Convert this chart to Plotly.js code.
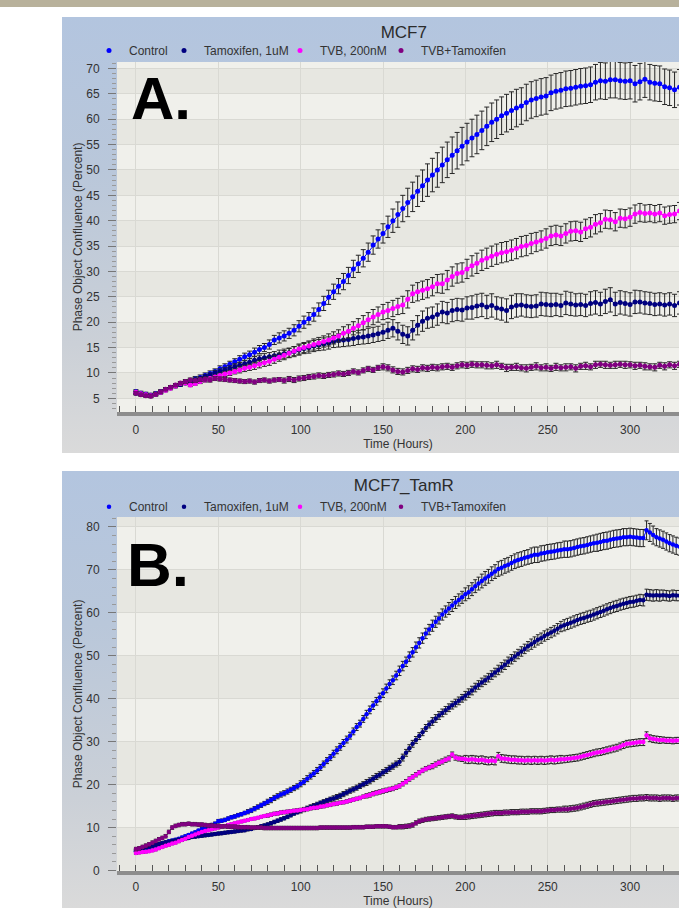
<!DOCTYPE html>
<html><head><meta charset="utf-8">
<script src="https://cdn.plot.ly/plotly-3.0.1.min.js"></script>
<style>
html,body{margin:0;padding:0;background:#fff;width:679px;height:908px;overflow:hidden;}
#band{position:absolute;left:0;top:0;width:679px;height:7px;background:#b8b19b;}
.panel{position:absolute;left:62px;width:617px;overflow:hidden;background:linear-gradient(to bottom,#b3c5df 0%,#b9c7da 35%,#cbd0d7 75%,#dadada 100%);}
#boxA{top:17px;height:436px;}
#boxB{top:471px;height:437px;}
</style></head>
<body>
<div id="band"></div>
<div id="boxA" class="panel"><div id="pA"></div></div>
<div id="boxB" class="panel"><div id="pB"></div></div>
<script>
// ---------------- DATA ----------------
const seriesNames = ['Control', 'Tamoxifen, 1uM', 'TVB, 200nM', 'TVB+Tamoxifen'];
const panelTitles = ['MCF7', 'MCF7_TamR'];
const panelLetters = ['A.', 'B.'];
const xTitle = 'Time (Hours)';
const yTitle = 'Phase Object Confluence (Percent)';

// Panel A: MCF7 (every 3 h)
const timeA = [0,3,6,9,12,15,18,21,24,27,
30,33,36,39,42,45,48,51,54,57,
60,63,66,69,72,75,78,81,84,87,
90,93,96,99,102,105,108,111,114,117,
120,123,126,129,132,135,138,141,144,147,
150,153,156,159,162,165,168,171,174,177,
180,183,186,189,192,195,198,201,204,207,
210,213,216,219,222,225,228,231,234,237,
240,243,246,249,252,255,258,261,264,267,
270,273,276,279,282,285,288,291,294,297,
300,303,306,309,312,315,318,321,324,327,
330];
const ctlA = [6.3,6.0,5.8,5.6,5.9,6.3,6.7,7.1,7.5,7.8,
8.1,8.4,8.8,9.1,9.5,9.9,10.3,10.8,11.2,11.7,
12.2,12.7,13.2,13.6,14.1,14.6,15.0,15.6,16.5,16.9,
17.3,17.8,18.4,19.2,20.0,20.7,21.5,22.5,23.7,24.9,
26.0,27.1,28.0,29.2,30.5,31.5,32.6,33.8,35.2,36.4,
37.5,38.8,40.0,41.2,42.4,43.6,44.7,45.8,46.9,48.0,
49.0,50.0,51.0,52.0,52.9,53.8,54.7,55.5,56.3,57.0,
57.8,58.6,59.4,60.0,60.7,61.2,61.7,62.2,62.6,63.3,
63.8,64.1,64.4,64.6,65.2,65.5,65.7,66.0,66.1,66.3,
66.5,66.6,66.8,67.3,67.6,67.5,67.8,67.8,67.6,67.5,
67.6,67.0,67.4,67.9,67.3,67.1,67.0,66.4,66.2,65.8,
66.3];
const tamA = [6.0,5.8,5.6,5.5,5.8,6.2,6.7,7.1,7.4,7.7,
8.0,8.3,8.6,8.9,9.3,9.6,10.0,10.3,10.6,10.9,
11.2,11.5,11.8,12.1,12.5,12.8,13.0,13.2,13.4,13.6,
13.8,14.0,14.2,14.5,14.8,15.0,15.3,15.5,15.7,15.9,
16.2,16.4,16.5,16.6,16.8,17.0,17.1,17.3,17.5,17.7,
18.0,18.4,18.8,18.2,17.6,17.3,18.4,19.4,20.2,20.8,
21.0,21.5,22.0,21.8,22.3,22.5,22.4,22.8,22.9,23.2,
23.4,23.0,23.3,22.8,22.6,22.3,23.0,23.3,23.4,23.2,
23.1,23.2,23.6,23.5,23.4,23.5,23.3,23.8,23.6,23.4,
23.5,23.3,23.7,23.9,23.6,24.1,24.4,23.6,23.9,23.7,
23.5,24.0,24.0,23.8,23.7,23.5,23.6,23.4,23.6,23.3,
23.8];
const tvbA = [6.2,5.9,5.7,5.5,5.8,6.2,6.6,7.0,7.4,7.9,
8.0,7.6,7.9,8.3,8.6,8.9,9.2,9.5,9.8,10.0,
10.3,10.6,10.9,11.1,11.4,11.7,12.0,12.3,12.7,13.1,
13.5,13.9,14.3,14.7,15.0,15.3,15.6,15.9,16.2,16.5,
16.9,17.3,17.8,18.2,18.8,19.3,19.9,20.5,21.0,21.5,
22.0,22.3,22.7,23.1,23.4,24.5,25.6,26.0,26.3,26.6,
27.0,27.6,27.6,28.3,29.0,29.6,29.8,30.5,31.1,31.6,
32.2,32.6,33.0,33.4,33.7,33.9,34.2,34.5,34.9,35.1,
35.5,35.8,36.1,36.5,37.0,37.2,37.0,37.5,37.9,38.0,
37.8,38.4,38.7,39.3,39.6,40.3,40.2,39.8,40.5,40.4,
40.7,41.3,41.6,41.4,41.5,41.3,41.5,41.0,41.2,41.3,
41.9];
const comboA = [6.0,5.7,5.5,5.4,5.8,6.3,6.8,7.2,7.6,8.0,
8.3,8.6,8.5,8.7,8.8,8.6,8.9,8.8,8.7,8.6,
8.5,8.4,8.3,8.4,8.2,8.5,8.6,8.4,8.6,8.7,
8.5,8.8,8.6,8.9,9.0,9.2,9.3,9.5,9.4,9.6,
9.7,9.9,9.8,10.0,10.3,10.1,10.5,10.8,10.6,11.0,
11.2,11.0,10.6,10.3,10.2,10.5,10.8,10.7,11.0,10.9,
11.1,11.0,11.2,11.3,11.1,11.4,11.6,11.5,11.7,11.6,
11.6,11.5,11.4,11.6,11.3,11.0,11.1,11.2,11.0,10.9,
11.1,11.3,11.0,11.1,10.9,11.2,11.0,11.1,11.2,10.9,
11.3,11.4,11.2,11.6,11.7,11.6,11.5,11.6,11.7,11.6,
11.6,11.4,11.5,11.3,11.2,11.1,11.5,11.3,11.6,11.4,
11.7];
const ctlAErr = [0.4,0.4,0.4,0.4,0.4,0.4,0.4,0.4,0.4,0.4,
0.4,0.4,0.5,0.5,0.5,0.5,0.5,0.6,0.6,0.6,
0.6,0.7,0.7,0.7,0.8,0.8,0.8,0.9,0.9,1.0,
1.0,1.0,1.1,1.1,1.2,1.2,1.3,1.3,1.4,1.4,
1.5,1.5,1.6,1.6,1.7,1.7,1.7,1.8,1.8,1.8,
1.9,2.1,2.3,2.5,2.6,2.8,2.9,3.0,3.1,3.2,
3.3,3.4,3.5,3.5,3.6,3.6,3.7,3.7,3.7,3.8,
3.8,3.8,3.8,3.8,3.7,3.7,3.7,3.7,3.6,3.6,
3.6,3.6,3.6,3.6,3.5,3.5,3.5,3.5,3.5,3.5,
3.5,3.5,3.5,3.5,3.6,3.6,3.6,3.6,3.6,3.6,
3.6,3.6,3.6,3.6,3.5,3.5,3.5,3.5,3.5,3.5,
3.5];
const tamAErr = [0.3,0.3,0.3,0.3,0.3,0.3,0.3,0.3,0.3,0.3,
0.3,0.3,0.4,0.4,0.4,0.4,0.5,0.5,0.5,0.5,
0.6,0.6,0.6,0.7,0.7,0.7,0.8,0.8,0.8,0.9,
0.9,0.9,1.0,1.0,1.0,1.1,1.1,1.1,1.2,1.2,
1.2,1.3,1.3,1.3,1.4,1.4,1.4,1.5,1.5,1.5,
1.6,1.6,1.7,1.7,1.8,1.8,1.9,1.9,2.0,2.0,
2.0,2.1,2.1,2.1,2.2,2.2,2.2,2.2,2.3,2.3,
2.3,2.3,2.3,2.2,2.2,2.3,2.3,2.3,2.2,2.2,
2.2,2.2,2.3,2.3,2.3,2.2,2.2,2.3,2.3,2.2,
2.2,2.2,2.3,2.3,2.3,2.4,2.4,2.3,2.3,2.3,
2.3,2.3,2.2,2.2,2.2,2.2,2.2,2.2,2.2,2.2,
2.2];
const tvbAErr = [0.3,0.3,0.3,0.3,0.3,0.3,0.3,0.3,0.3,0.3,
0.3,0.3,0.3,0.4,0.4,0.4,0.4,0.5,0.5,0.5,
0.5,0.6,0.6,0.6,0.7,0.7,0.7,0.8,0.8,0.8,
0.9,0.9,0.9,1.0,1.0,1.0,1.1,1.1,1.1,1.2,
1.2,1.2,1.3,1.3,1.3,1.4,1.4,1.4,1.5,1.5,
1.5,1.6,1.6,1.6,1.7,1.7,1.7,1.8,1.8,1.8,
1.8,1.8,1.9,1.9,1.9,1.9,1.9,1.9,2.0,2.0,
2.0,2.0,2.0,2.0,2.0,2.0,2.0,2.0,2.0,2.0,
2.0,1.9,1.9,1.9,1.9,1.9,1.9,1.9,1.9,1.9,
1.9,1.9,1.9,1.9,1.8,1.8,1.8,1.8,1.8,1.8,
1.8,1.8,1.8,1.7,1.7,1.7,1.7,1.7,1.7,1.7,
1.7];
const comboAErr = [0.3,0.3,0.3,0.3,0.3,0.3,0.3,0.3,0.3,0.3,
0.4,0.4,0.4,0.4,0.4,0.4,0.4,0.4,0.4,0.4,
0.4,0.4,0.4,0.4,0.4,0.4,0.4,0.4,0.4,0.4,
0.5,0.5,0.5,0.5,0.5,0.5,0.5,0.5,0.5,0.5,
0.5,0.5,0.5,0.5,0.5,0.5,0.5,0.5,0.5,0.5,
0.6,0.6,0.6,0.6,0.6,0.6,0.6,0.6,0.6,0.6,
0.6,0.6,0.6,0.6,0.6,0.6,0.6,0.6,0.6,0.6,
0.6,0.7,0.6,0.7,0.6,0.7,0.6,0.7,0.6,0.7,
0.6,0.7,0.6,0.7,0.6,0.7,0.6,0.7,0.6,0.7,
0.6,0.7,0.6,0.7,0.6,0.7,0.6,0.7,0.6,0.7,
0.6,0.7,0.6,0.7,0.6,0.7,0.6,0.7,0.6,0.7,
0.6];

// Panel B: MCF7_TamR (every 2 h)
const timeB = [0,2,4,6,8,10,12,14,16,18,
20,22,24,26,28,30,32,34,36,38,
40,42,44,46,48,50,52,54,56,58,
60,62,64,66,68,70,72,74,76,78,
80,82,84,86,88,90,92,94,96,98,
100,102,104,106,108,110,112,114,116,118,
120,122,124,126,128,130,132,134,136,138,
140,142,144,146,148,150,152,154,156,158,
160,162,164,166,168,170,172,174,176,178,
180,182,184,186,188,190,192,194,196,198,
200,202,204,206,208,210,212,214,216,218,
220,222,224,226,228,230,232,234,236,238,
240,242,244,246,248,250,252,254,256,258,
260,262,264,266,268,270,272,274,276,278,
280,282,284,286,288,290,292,294,296,298,
300,302,304,306,308,310,312,314,316,318,
320,322,324,326,328,330];
const ctlB = [4.5,4.7,4.9,5.1,5.3,5.6,5.8,6.0,6.3,6.5,
6.8,7.0,7.2,7.4,7.7,8.0,8.3,8.6,8.9,9.3,
9.6,9.9,10.2,10.6,10.9,11.5,11.6,11.8,12.1,12.4,
12.6,12.9,13.1,13.4,13.7,14.0,14.4,14.8,15.2,15.6,
16.0,16.4,16.9,17.3,17.7,18.0,18.4,18.8,19.2,19.6,
20.2,20.7,21.4,22.0,22.6,23.3,24.0,24.8,25.6,26.3,
27.2,28.0,28.8,29.7,30.5,31.4,32.4,33.4,34.2,35.3,
36.4,37.4,38.4,39.4,40.3,41.3,42.4,43.4,44.3,45.4,
46.5,47.6,48.6,49.8,50.8,52.0,53.0,54.1,55.2,56.1,
57.0,57.9,58.7,59.6,60.3,61.0,61.7,62.4,63.0,63.6,
64.3,64.8,65.5,66.2,66.8,67.4,68.0,68.5,69.1,69.6,
70.2,70.5,70.9,71.2,71.6,72.0,72.3,72.5,72.8,73.0,
73.3,73.5,73.5,73.8,73.9,74.1,74.2,74.3,74.5,74.6,
74.8,74.8,74.9,75.1,75.3,75.5,75.6,75.8,76.0,76.2,
76.3,76.5,76.7,76.8,77.0,77.2,77.3,77.4,77.6,77.6,
77.7,77.6,77.5,77.4,77.4,79.2,78.7,78.1,77.6,77.3,
77.0,76.6,76.2,75.9,75.6,75.4];
const tamB = [4.8,5.0,5.2,5.4,5.6,5.8,6.0,6.2,6.4,6.6,
6.7,6.9,7.0,7.2,7.3,7.5,7.6,7.8,7.9,8.0,
8.1,8.2,8.3,8.4,8.5,8.6,8.7,8.8,8.9,9.0,
9.1,9.2,9.3,9.4,9.6,9.7,9.9,10.1,10.3,10.5,
10.7,11.0,11.3,11.6,11.9,12.2,12.5,12.9,13.3,13.6,
13.9,14.2,14.5,14.8,15.1,15.4,15.7,16.0,16.3,16.6,
16.8,17.1,17.4,17.8,18.2,18.6,18.9,19.3,19.7,20.1,
20.5,20.9,21.4,21.9,22.3,22.8,23.3,23.8,24.3,24.8,
25.3,26.3,27.4,28.5,29.5,30.4,31.3,32.2,33.2,34.0,
34.7,35.4,36.1,36.7,37.3,37.9,38.5,39.0,39.5,40.1,
40.7,41.3,41.9,42.6,43.2,43.8,44.3,44.9,45.5,46.1,
46.7,47.3,47.9,48.6,49.2,49.8,50.4,51.0,51.6,52.2,
52.7,53.2,53.7,54.1,54.6,55.0,55.4,55.8,56.3,56.8,
57.1,57.4,57.7,58.0,58.3,58.6,58.8,59.1,59.3,59.6,
59.9,60.2,60.5,60.8,61.1,61.4,61.6,61.9,62.1,62.3,
62.5,62.6,62.8,63.0,62.9,64.2,64.1,64.0,64.1,64.0,
64.1,64.0,63.9,64.1,64.0,64.0];
const tvbB = [4.1,4.2,4.3,4.4,4.5,4.7,4.9,5.2,5.5,5.8,
6.0,6.3,6.5,6.8,7.1,7.4,7.8,8.1,8.4,8.7,
9.0,9.2,9.4,9.6,9.8,10.0,10.2,10.4,10.6,10.8,
11.0,11.2,11.4,11.6,11.8,12.0,12.1,12.3,12.5,12.7,
12.8,13.0,13.2,13.3,13.5,13.6,13.7,13.8,13.9,14.0,
14.1,14.2,14.3,14.5,14.6,14.7,14.9,15.0,15.2,15.3,
15.5,15.6,15.8,15.9,16.1,16.3,16.5,16.7,16.9,17.2,
17.4,17.6,17.9,18.1,18.3,18.5,18.7,18.9,19.1,19.4,
19.7,20.2,20.7,21.3,21.8,22.3,22.8,23.3,23.7,24.0,
24.3,24.7,25.1,25.4,25.8,26.1,27.0,26.3,26.1,26.0,
25.9,25.8,25.9,25.8,25.7,25.8,25.6,25.5,25.6,25.5,
26.6,26.1,26.0,25.9,25.8,25.8,25.7,25.7,25.6,25.7,
25.6,25.7,25.6,25.7,25.6,25.7,25.8,25.7,25.8,25.9,
25.9,26.0,26.1,26.2,26.3,26.5,26.7,26.9,27.1,27.3,
27.5,27.6,27.8,28.0,28.2,28.4,28.6,28.9,29.2,29.5,
29.6,29.7,29.8,29.9,29.9,31.5,30.8,30.6,30.5,30.4,
30.4,30.3,30.3,30.2,30.3,30.3];
const comboB = [5.0,5.2,5.5,5.8,6.1,6.5,6.9,7.3,7.6,8.0,
9.0,10.0,10.4,10.6,10.8,10.8,10.9,10.8,10.8,10.7,
10.7,10.6,10.5,10.5,10.4,10.4,10.3,10.3,10.2,10.2,
10.2,10.1,10.1,10.1,10.1,10.0,10.0,10.0,10.0,9.9,
9.9,9.9,9.9,9.9,9.9,9.9,9.9,9.9,9.9,9.9,
9.9,9.9,9.9,9.9,9.9,9.9,10.0,10.0,10.0,10.0,
10.0,10.0,10.0,10.0,10.0,10.0,10.1,10.1,10.1,10.1,
10.2,10.2,10.2,10.3,10.3,10.3,10.3,10.2,10.1,10.1,
10.2,10.2,10.3,10.4,10.6,11.1,11.5,11.7,11.9,12.0,
12.1,12.2,12.3,12.4,12.5,12.6,12.7,12.5,12.4,12.4,
12.5,12.6,12.7,12.8,12.9,13.0,13.1,13.2,13.3,13.4,
13.4,13.4,13.5,13.5,13.6,13.6,13.6,13.7,13.7,13.7,
13.8,13.8,13.8,13.8,13.9,14.0,14.1,14.1,14.2,14.2,
14.3,14.3,14.4,14.5,14.6,14.8,15.0,15.2,15.4,15.6,
15.7,15.8,15.9,16.0,16.1,16.2,16.3,16.4,16.5,16.6,
16.7,16.8,16.8,16.9,16.9,17.0,16.9,16.9,16.9,16.8,
16.9,16.9,16.9,16.8,16.9,16.9];
const ctlBErr = [0.3,0.3,0.3,0.3,0.3,0.3,0.3,0.3,0.3,0.3,
0.3,0.3,0.3,0.3,0.3,0.3,0.3,0.3,0.3,0.3,
0.4,0.4,0.4,0.4,0.4,0.4,0.4,0.4,0.4,0.4,
0.4,0.4,0.4,0.4,0.5,0.5,0.5,0.5,0.5,0.5,
0.6,0.6,0.6,0.6,0.6,0.6,0.6,0.6,0.6,0.6,
0.7,0.7,0.7,0.7,0.7,0.7,0.7,0.7,0.7,0.7,
0.8,0.8,0.8,0.8,0.8,0.8,0.8,0.8,0.8,0.8,
0.9,0.9,0.9,0.9,1.0,1.0,1.0,1.0,1.0,1.0,
1.1,1.1,1.1,1.1,1.1,1.2,1.2,1.2,1.2,1.2,
1.3,1.3,1.3,1.3,1.3,1.4,1.4,1.4,1.4,1.4,
1.5,1.5,1.5,1.5,1.5,1.6,1.6,1.6,1.6,1.6,
1.7,1.7,1.7,1.7,1.7,1.7,1.7,1.7,1.7,1.7,
1.8,1.8,1.8,1.8,1.8,1.8,1.8,1.8,1.8,1.8,
1.9,1.9,1.9,1.9,1.9,1.9,1.9,1.9,1.9,1.9,
2.0,2.0,2.0,2.0,2.0,2.0,2.0,2.0,2.0,2.0,
2.0,2.0,2.0,2.0,2.0,2.2,2.1,2.1,2.0,2.0,
2.0,2.0,2.0,2.0,2.0,2.0];
const tamBErr = [0.3,0.3,0.3,0.3,0.3,0.3,0.3,0.3,0.3,0.3,
0.3,0.3,0.3,0.3,0.3,0.3,0.3,0.3,0.3,0.3,
0.35,0.35,0.35,0.35,0.35,0.35,0.35,0.35,0.35,0.35,
0.35,0.35,0.35,0.35,0.35,0.35,0.35,0.35,0.35,0.35,
0.4,0.4,0.4,0.4,0.4,0.4,0.4,0.4,0.4,0.4,
0.5,0.5,0.5,0.5,0.5,0.5,0.5,0.5,0.5,0.5,
0.6,0.6,0.6,0.6,0.6,0.6,0.6,0.6,0.6,0.6,
0.7,0.7,0.7,0.7,0.7,0.7,0.7,0.7,0.7,0.7,
0.8,0.8,0.8,0.8,0.8,0.8,0.8,0.8,0.8,0.8,
0.9,0.9,0.9,0.9,0.9,0.9,0.9,0.9,0.9,0.9,
1.0,1.0,1.0,1.0,1.0,1.0,1.0,1.0,1.0,1.0,
1.1,1.1,1.1,1.1,1.1,1.1,1.1,1.1,1.1,1.1,
1.2,1.2,1.2,1.2,1.2,1.2,1.2,1.2,1.2,1.2,
1.3,1.3,1.3,1.3,1.3,1.3,1.3,1.3,1.3,1.3,
1.3,1.3,1.3,1.3,1.3,1.3,1.3,1.3,1.3,1.3,
1.3,1.3,1.3,1.3,1.3,1.3,1.3,1.3,1.3,1.3,
1.2,1.2,1.2,1.2,1.2,1.2];
const tvbBErr = [0.3,0.3,0.3,0.3,0.3,0.3,0.3,0.3,0.3,0.3,
0.3,0.3,0.3,0.3,0.3,0.3,0.3,0.3,0.3,0.3,
0.3,0.3,0.3,0.3,0.3,0.3,0.3,0.3,0.3,0.3,
0.3,0.3,0.3,0.3,0.3,0.3,0.3,0.3,0.3,0.3,
0.4,0.4,0.4,0.4,0.4,0.4,0.4,0.4,0.4,0.4,
0.4,0.4,0.4,0.4,0.4,0.4,0.4,0.4,0.4,0.4,
0.4,0.4,0.4,0.4,0.4,0.4,0.4,0.4,0.4,0.4,
0.5,0.5,0.5,0.5,0.5,0.5,0.5,0.5,0.5,0.5,
0.5,0.5,0.5,0.5,0.5,0.5,0.5,0.5,0.5,0.5,
0.6,0.6,0.6,0.6,0.6,0.6,0.6,0.6,0.6,0.6,
0.9,0.9,0.9,0.9,0.9,0.9,0.9,0.9,0.9,0.9,
0.9,0.9,0.9,0.9,0.9,0.9,0.9,0.9,0.9,0.9,
0.9,0.9,0.9,0.9,0.9,0.9,0.9,0.9,0.9,0.9,
0.8,0.8,0.8,0.8,0.8,0.8,0.8,0.8,0.8,0.8,
0.8,0.8,0.8,0.8,0.8,0.8,0.8,0.8,0.8,0.8,
0.8,0.8,0.8,0.8,0.8,0.8,0.8,0.8,0.8,0.8,
0.7,0.7,0.7,0.7,0.7,0.7];
const comboBErr = [0.4,0.4,0.4,0.4,0.4,0.4,0.4,0.4,0.4,0.4,
0.4,0.4,0.4,0.4,0.4,0.4,0.4,0.4,0.4,0.4,
0.4,0.4,0.4,0.4,0.4,0.4,0.4,0.4,0.4,0.4,
0.4,0.4,0.4,0.4,0.4,0.4,0.4,0.4,0.4,0.4,
0.4,0.4,0.4,0.4,0.4,0.4,0.4,0.4,0.4,0.4,
0.4,0.4,0.4,0.4,0.4,0.4,0.4,0.4,0.4,0.4,
0.4,0.4,0.4,0.4,0.4,0.4,0.4,0.4,0.4,0.4,
0.4,0.4,0.4,0.4,0.4,0.4,0.4,0.4,0.4,0.4,
0.5,0.5,0.5,0.5,0.5,0.5,0.5,0.5,0.5,0.5,
0.5,0.5,0.5,0.5,0.5,0.5,0.5,0.5,0.5,0.5,
0.6,0.6,0.6,0.6,0.6,0.6,0.6,0.6,0.6,0.6,
0.6,0.6,0.6,0.6,0.6,0.6,0.6,0.6,0.6,0.6,
0.6,0.6,0.6,0.6,0.6,0.6,0.6,0.6,0.6,0.6,
0.7,0.7,0.7,0.7,0.7,0.7,0.7,0.7,0.7,0.7,
0.7,0.7,0.7,0.7,0.7,0.7,0.7,0.7,0.7,0.7,
0.7,0.7,0.7,0.7,0.7,0.7,0.7,0.7,0.7,0.7,
0.7,0.7,0.7,0.7,0.7,0.7];

// ---------------- STYLE ----------------
const FONT = '"Liberation Sans", Arial, sans-serif';
const seriesColors = ['#0000ff', '#000080', '#ff00ff', '#800080'];
const legendKeys = ['legend', 'legend2', 'legend3', 'legend4'];

function buildTraces(time, ys, errs, msize, capw) {
  const out = [];
  ys.forEach((y, i) => out.push({
    type: 'scatter', mode: 'lines', x: time, y: y, showlegend: false, hoverinfo: 'skip',
    line: {color: seriesColors[i], width: 1}
  }));
  ys.forEach((y, i) => out.push({
    type: 'scatter', mode: 'markers', name: seriesNames[i], x: time, y: y,
    legend: legendKeys[i],
    marker: {color: seriesColors[i], size: msize},
    error_y: {type: 'data', array: errs[i], visible: true, color: '#262626', thickness: 1, width: capw}
  }));
  return out;
}

function buildLayout(p) {
  const shapes = [];
  for (let v = p.bandStart; v < p.yRange[1]; v += 2 * p.dy) {
    shapes.push({type: 'rect', xref: 'paper', x0: 0, x1: 1, yref: 'y', y0: v, y1: v + p.dy,
      fillcolor: '#e7e7e1', line: {width: 0}, layer: 'below'});
  }
  const layout = {
    width: 617, height: p.h,
    margin: {l: 55, r: 0, t: p.t, b: p.b, pad: 0, autoexpand: false},
    paper_bgcolor: 'rgba(0,0,0,0)', plot_bgcolor: '#f0f0eb',
    font: {family: FONT, size: 12, color: '#333'},
    title: {text: p.title, x: 0.554, xanchor: 'center', y: p.titleY, yanchor: 'middle',
      font: {family: FONT, size: 17, color: '#2b2b2b'}},
    showlegend: true,
    xaxis: {range: [-11.5, 329.7], tick0: 0, dtick: 50, ticks: 'inside', ticklen: 6, tickwidth: 1, tickcolor: '#555',
      showgrid: true, gridcolor: '#d9d9d3', gridwidth: 1, zeroline: false,
      showline: true, linecolor: '#8d8d8d', linewidth: 4,
      tickfont: {family: FONT, size: 12, color: '#333'}, ticklabelstandoff: p.xLabelStandoff,
      minor: {tick0: 0, dtick: 10, ticks: 'inside', ticklen: 6, tickwidth: 1, tickcolor: '#555', showgrid: false},
      title: {text: xTitle, font: {family: FONT, size: 12, color: '#333'}, standoff: p.xTitleStandoff},
      fixedrange: true},
    yaxis: {range: p.yRange, tick0: 0, dtick: p.dy, ticks: 'outside', ticklen: 8, tickwidth: 1, tickcolor: '#777',
      showgrid: true, gridcolor: '#d9d9d3', gridwidth: 1, zeroline: false, showline: false,
      tickfont: {family: FONT, size: 12, color: '#333'}, ticklabelstandoff: 6,
      minor: {tick0: 0, dtick: p.minorDy, ticks: 'outside', ticklen: 4, tickwidth: 1, tickcolor: '#999', showgrid: false},
      title: {text: yTitle, font: {family: FONT, size: 12, color: '#333'}, standoff: 1},
      fixedrange: true},
    shapes: shapes,
    annotations: [{text: p.letter, xref: 'paper', yref: 'paper', x: p.letterX, y: p.letterY,
      xanchor: 'left', yanchor: 'top', showarrow: false,
      font: {family: FONT, size: p.letterSize, color: '#000', weight: 'bold'}}]
  };
  legendKeys.forEach((k, i) => {
    layout[k] = {xref: 'container', yref: 'container', x: p.legendX[i], y: p.legendY,
      xanchor: 'left', yanchor: 'middle', orientation: 'h', bgcolor: 'rgba(0,0,0,0)', borderwidth: 0,
      font: {family: FONT, size: 12, color: '#333'}, itemwidth: 30, itemsizing: 'trace'};
  });
  return layout;
}

const legendXs = [(89 - 62) / 617, (164 - 62) / 617, (280 - 62) / 617, (381 - 62) / 617];

const layoutA = buildLayout({
  h: 436, t: 45, b: 41, title: panelTitles[0], titleY: 1 - 14.7 / 436,
  yRange: [2.30, 71.28], dy: 5, minorDy: 1, bandStart: 5,
  xLabelStandoff: 4, xTitleStandoff: 3,
  letter: panelLetters[0], letterX: 0.021, letterY: 0.996, letterSize: 60,
  legendX: legendXs, legendY: 1 - 33.5 / 436
});
// Panel B's figure runs a little below the visible window (it is cropped at the bottom)
const layoutB = buildLayout({
  h: 452, t: 46, b: 52, title: panelTitles[1], titleY: 1 - 14 / 452,
  yRange: [-0.1, 82.3], dy: 10, minorDy: 2, bandStart: 0,
  xLabelStandoff: 2, xTitleStandoff: 0,
  letter: panelLetters[1], letterX: 0.014, letterY: 0.968, letterSize: 62,
  legendX: legendXs, legendY: 1 - 35.7 / 452
});

const cfg = {displayModeBar: false, staticPlot: true};
Plotly.newPlot('pA', buildTraces(timeA, [ctlA, tamA, tvbA, comboA], [ctlAErr, tamAErr, tvbAErr, comboAErr], 5, 2.5), layoutA, cfg);
Plotly.newPlot('pB', buildTraces(timeB, [ctlB, tamB, tvbB, comboB], [ctlBErr, tamBErr, tvbBErr, comboBErr], 4.5, 2), layoutB, cfg);
</script>
</body></html>
